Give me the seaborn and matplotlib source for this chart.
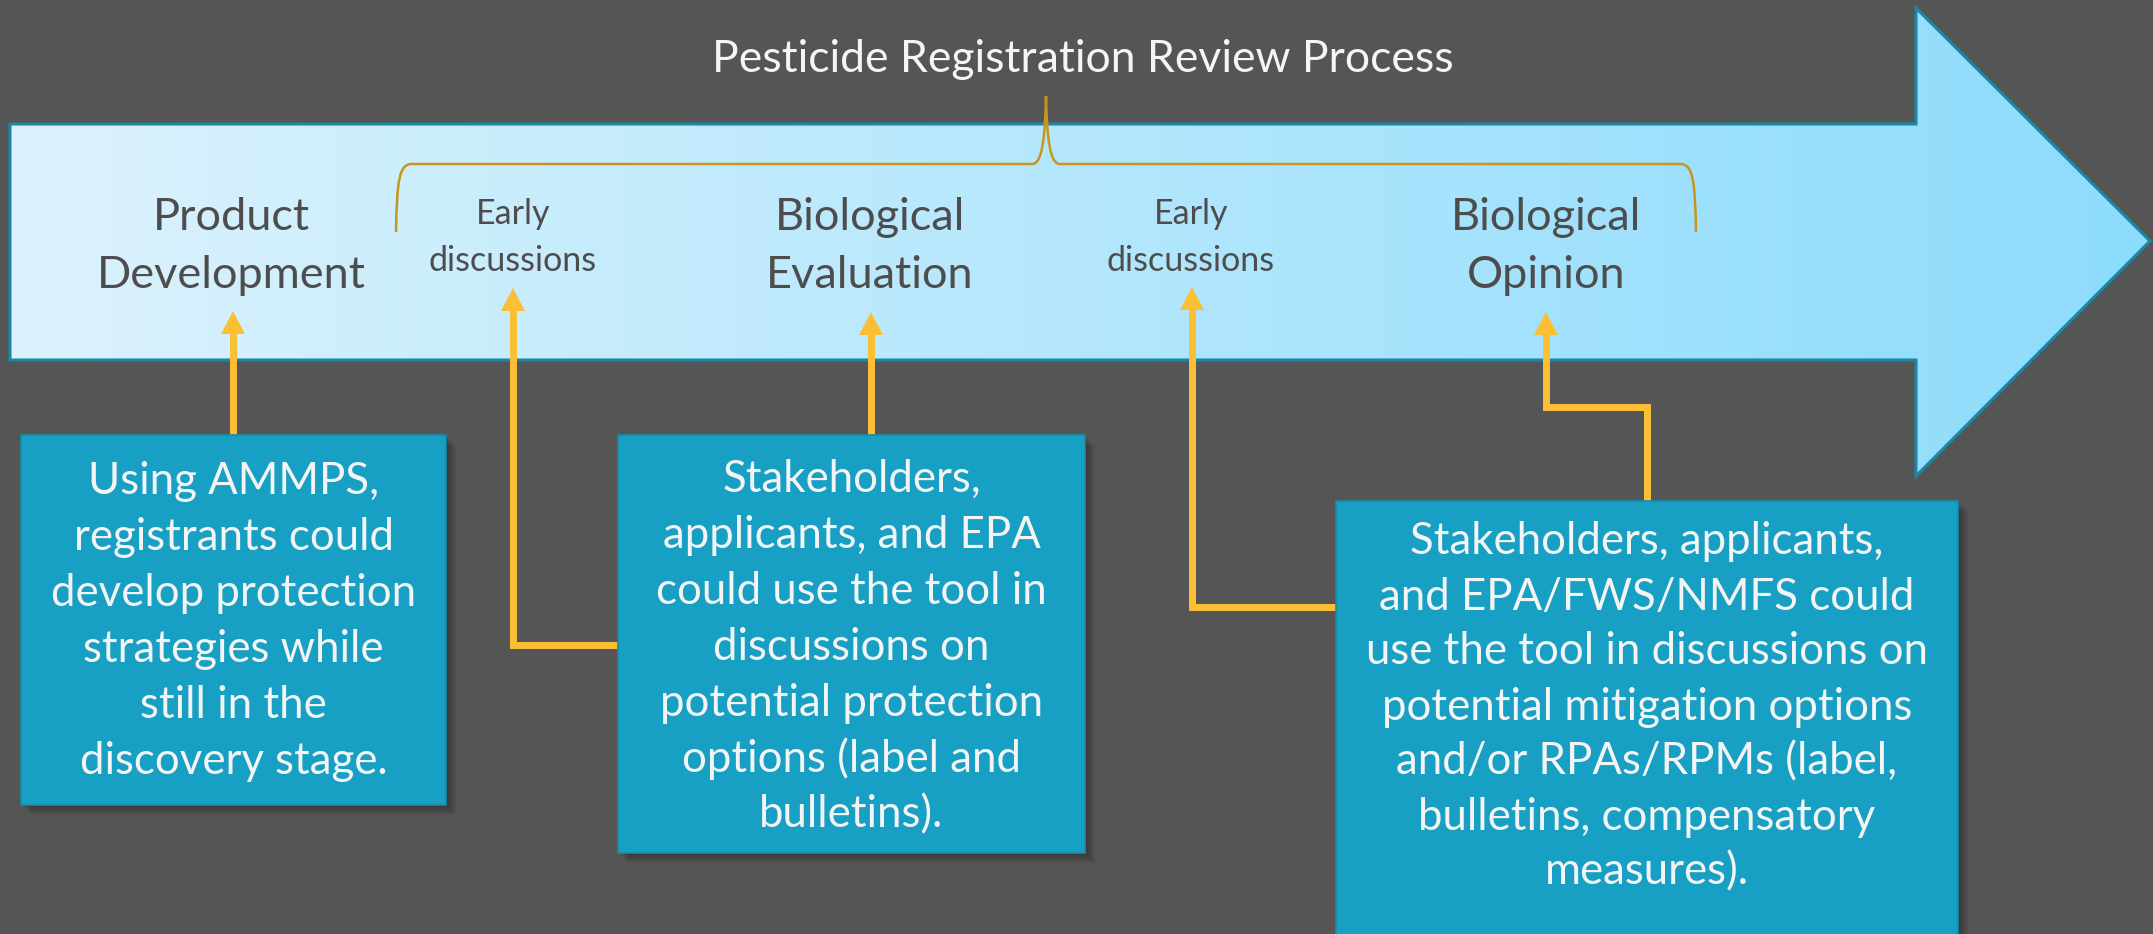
import matplotlib
matplotlib.use("Agg")
import matplotlib.pyplot as plt
from matplotlib.patches import Polygon, Rectangle, PathPatch
from matplotlib.path import Path
import matplotlib.colors as mcolors
import numpy as np
import seaborn as sns

sns.set_theme(style="white")
plt.rcParams["font.family"] = ["Lato", "DejaVu Sans"]

# --- contenu ---
title = "Pesticide Registration Review Process"
stage_labels = ["Product\nDevelopment", "Early\ndiscussions", "Biological\nEvaluation",
                "Early\ndiscussions", "Biological\nOpinion"]
stage_is_minor = [False, True, False, True, False]
notes = [
    "Using AMMPS,\nregistrants could\ndevelop protection\nstrategies while\nstill in the\ndiscovery stage.",
    "Stakeholders,\napplicants, and EPA\ncould use the tool in\ndiscussions on\npotential protection\noptions (label and\nbulletins).",
    "Stakeholders, applicants,\nand EPA/FWS/NMFS could\nuse the tool in discussions on\npotential mitigation options\nand/or RPAs/RPMs (label,\nbulletins, compensatory\nmeasures).",
]

# --- mise en page (pixels de l'image) ---
W, H = 2153, 934
stage_x = [231, 513, 870, 1191, 1546]
boxes = [(21, 435, 446, 805), (618, 435, 1085, 853), (1336, 501, 1958, 960)]
note_first_y = [481, 479, 542]
note_step = [56, 56, 55]
connectors = [
    [(233, 435), (233, 330)],
    [(618, 645), (513, 645), (513, 307)],
    [(871, 435), (871, 330)],
    [(1336, 607), (1192, 607), (1192, 306)],
    [(1647, 501), (1647, 407), (1546, 407), (1546, 330)],
]
tips = [(233, 311), (513, 288), (871, 312), (1192, 287), (1546, 312)]

BG = "#555555"
BOX = "#17a0c4"
YELLOW = "#fbbf35"
EDGE = "#1a87a5"
BRACE = "#c8961e"
DARK = "#4d4d4d"

fig = plt.figure(figsize=(W / 100, H / 100), dpi=100, facecolor=BG)
ax = fig.add_axes([0, 0, 1, 1])
ax.set_facecolor(BG)

# grande flèche avec dégradé
arrow_pts = [(10, 124), (1916, 124), (1916, 8), (2150, 241), (1916, 476), (1916, 360), (10, 360)]
arrow = Polygon(arrow_pts, closed=True, facecolor="none", edgecolor=EDGE, lw=2.2, zorder=3)
ax.add_patch(arrow)
cmap = mcolors.LinearSegmentedColormap.from_list("grad", ["#dcf2fd", "#b4e7fc", "#8ddcfc"])
grad = np.linspace(0, 1, 512).reshape(1, -1)
im = ax.imshow(grad, cmap=cmap, extent=[10, 2150, 476, 8], aspect="auto", zorder=2)
im.set_clip_path(arrow)

# accolade
verts = [(396, 232), (397, 180), (399, 164), (412, 164),
         (1032, 164),
         (1042, 164), (1045, 140), (1046, 96),
         (1047, 140), (1050, 164), (1060, 164),
         (1680, 164),
         (1693, 164), (1695, 180), (1696, 232)]
codes = [Path.MOVETO, Path.CURVE4, Path.CURVE4, Path.CURVE4,
         Path.LINETO,
         Path.CURVE4, Path.CURVE4, Path.CURVE4,
         Path.CURVE4, Path.CURVE4, Path.CURVE4,
         Path.LINETO,
         Path.CURVE4, Path.CURVE4, Path.CURVE4]
ax.add_patch(PathPatch(Path(verts, codes), facecolor="none", edgecolor=BRACE, lw=1.8, zorder=4))

ax.text(1083, 59, title, color="#f5f5f5", fontsize=32, ha="center", va="center", zorder=5)

for x, lab, minor in zip(stage_x, stage_labels, stage_is_minor):
    lines = lab.split("\n")
    if minor:
        ys, fs = [214, 261], 24.5
    else:
        ys, fs = [217, 276], 32.5
    for y, line in zip(ys, lines):
        ax.text(x, y, line, color=DARK, fontsize=fs, ha="center", va="center", zorder=5)

# connecteurs jaunes
for path, tip in zip(connectors, tips):
    xs, ys = zip(*path)
    ax.plot(xs, ys, color=YELLOW, lw=5, solid_joinstyle="miter", solid_capstyle="butt", zorder=6)
    tx, ty = tip
    ax.add_patch(Polygon([(tx, ty), (tx - 12, ty + 23), (tx + 12, ty + 23)], closed=True,
                         facecolor=YELLOW, edgecolor="none", zorder=7))

# boîtes de texte
for (x0, y0, x1, y1), txt, fy, step in zip(boxes, notes, note_first_y, note_step):
    for k in range(5):
        ax.add_patch(Rectangle((x0 + 2 + k * 2, y0 + 2 + k * 2), x1 - x0, y1 - y0,
                               facecolor="black", alpha=0.07, edgecolor="none", zorder=7))
    ax.add_patch(Rectangle((x0, y0), x1 - x0, y1 - y0, facecolor=BOX, edgecolor="#1a8aa8",
                           lw=1.2, zorder=8))
    cx = (x0 + x1) / 2
    for i, line in enumerate(txt.split("\n")):
        ax.text(cx, fy + i * step, line, color="#f4f4f4", fontsize=31.5, ha="center",
                va="center", zorder=9)

ax.set_xlim(0, W)
ax.set_ylim(H, 0)
ax.axis("off")
fig.savefig("out.png", dpi=100, facecolor=BG)
